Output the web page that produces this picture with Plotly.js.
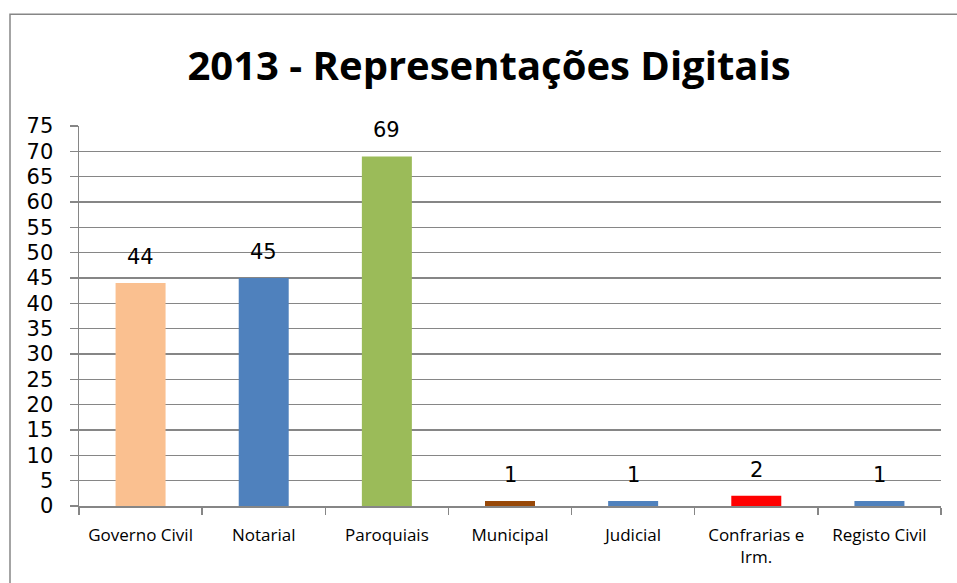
<!DOCTYPE html>
<html>
<head>
<meta charset="utf-8">
<script src="https://cdn.plot.ly/plotly-3.0.1.min.js"></script>
<style>html,body{margin:0;padding:0;background:#fff;}#chart{width:957px;height:583px;}</style>
</head>
<body>
<div id="chart"></div>
<script>
var categories = ["Governo Civil", "Notarial", "Paroquiais", "Municipal", "Judicial", "Confrarias e Irm.", "Registo Civil"];
var tickLabels = ["Governo Civil", "Notarial", "Paroquiais", "Municipal", "Judicial", "Confrarias e<br>Irm.", "Registo Civil"];
var values = [44, 45, 69, 1, 1, 2, 1];
var barColors = ["#FAC090", "#4F81BD", "#9BBB59", "#984807", "#4F81BD", "#FF0000", "#4F81BD"];
var yTicks = [0, 5, 10, 15, 20, 25, 30, 35, 40, 45, 50, 55, 60, 65, 70, 75];
var titleText = "2013 - Representações Digitais";

var gray = "#868686";

var trace = {
  type: "bar",
  x: categories,
  y: values,
  marker: {color: barColors, line: {width: 0}},
  hoverinfo: "x+y"
};

var annotations = categories.map(function (c, i) {
  return {
    x: c, y: values[i], xref: "x", yref: "y",
    text: String(values[i]),
    showarrow: false,
    yanchor: "middle",
    yshift: 26,
    font: {family: "DejaVu Sans", size: 21, color: "#000"}
  };
});

var layout = {
  width: 957, height: 583,
  margin: {l: 79, r: 16, t: 126, b: 76.5, pad: 0},
  paper_bgcolor: "#fff", plot_bgcolor: "#fff",
  showlegend: false,
  bargap: 0.594,
  title: {
    text: "<b>" + titleText + "</b>",
    x: 489 / 957, xanchor: "center", xref: "container",
    y: 1 - 66 / 583, yanchor: "middle", yref: "container",
    font: {family: "Open Sans", size: 40, color: "#000"}
  },
  xaxis: {
    type: "category",
    tickvals: categories,
    ticktext: tickLabels,
    tickson: "boundaries",
    ticks: "outside", ticklen: 7, tickwidth: 1.5, tickcolor: gray,
    showline: true, linecolor: gray, linewidth: 1.5,
    showgrid: false, zeroline: false,
    tickfont: {family: "Open Sans", size: 17, color: "#000"},
    ticklabelstandoff: 13
  },
  yaxis: {
    range: [0, 75],
    tickvals: yTicks,
    ticktext: yTicks.map(String),
    ticks: "outside", ticklen: 8, tickwidth: 1.5, tickcolor: gray,
    showline: true, linecolor: gray, linewidth: 1.5,
    showgrid: true, gridcolor: gray, gridwidth: 1.5,
    zeroline: false,
    tickfont: {family: "DejaVu Sans", size: 21, color: "#000"},
    ticklabelstandoff: 12
  },
  annotations: annotations,
  shapes: [{
    type: "rect", xref: "paper", yref: "paper",
    x0: (10 - 79) / 862, x1: 1.3,
    y0: -0.5, y1: (506.5 - 14) / 380.5,
    line: {color: gray, width: 1.5},
    fillcolor: "rgba(0,0,0,0)",
    layer: "below"
  }]
};

Plotly.newPlot("chart", [trace], layout, {displayModeBar: false, staticPlot: true});
</script>
</body>
</html>
